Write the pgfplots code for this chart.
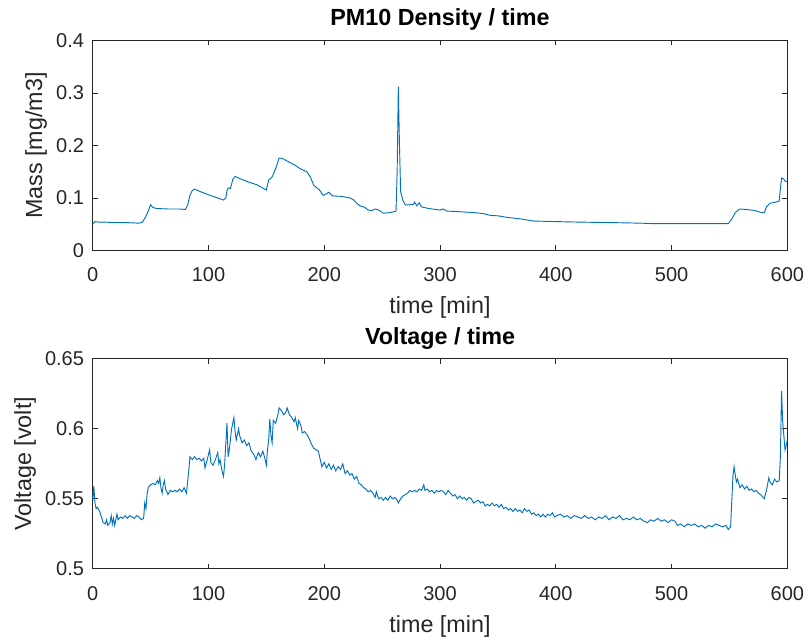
\documentclass[border=0pt]{standalone}
\usepackage{fontspec}
\setmainfont{Liberation Sans}
\usepackage{pgfplots}
\pgfplotsset{compat=1.18}
\definecolor{mlblue}{RGB}{0,114,189}
\definecolor{mlgray}{RGB}{38,38,38}

\pgfplotsset{mlstyle/.style={
  scale only axis, width=521pt, height=157.5pt,
  xmin=0, xmax=600, xtick={0,100,...,600},
  axis line style={mlgray, line width=0.6pt},
  tick style={mlgray, line width=0.6pt},
  tick align=inside, major tick length=3.75pt,
  ticklabel style={font=\fontsize{15}{17}\selectfont, text=mlgray},
  xticklabel style={anchor=base, yshift=-23.6pt},
  yticklabel style={anchor=east, xshift=-3pt},
  label style={font=\fontsize{17.5}{20}\selectfont, text=mlgray},
  xlabel style={at={(0.5,0)}, anchor=base, yshift=-47.6pt},
  title style={font=\bfseries\fontsize{17.5}{20}\selectfont, at={(0.5,1)}, anchor=base, yshift=5pt},
  /pgf/number format/assume math mode=true,
  xlabel={time [min]},
}}

\begin{document}
\begin{tikzpicture}
\path[use as bounding box] (0,0) rectangle (604.5pt,480.75pt);

% PM10 density
\begin{axis}[mlstyle, at={(69.5pt,292.9pt)}, anchor=south west,
  ymin=0, ymax=0.4, ytick={0,0.1,...,0.4},
  ylabel={Mass [mg/m3]},
  title={PM10 Density / time}]
\addplot[mlblue, line width=0.7pt] coordinates {
(0,0.050) (2,0.055) (5,0.054) (10,0.054) (20,0.053) (30,0.053) (40,0.052)
(43,0.054) (46,0.065) (48,0.075) (50,0.087) (52,0.082) (55,0.080) (65,0.079)
(75,0.079) (80,0.078) (82,0.086) (84,0.105) (86,0.114) (88,0.117) (92,0.113)
(100,0.106) (108,0.100) (113,0.096) (115,0.100) (116,0.114) (117,0.119)
(119,0.118) (121,0.135) (123,0.141) (128,0.136) (135,0.130) (142,0.125)
(150,0.115) (152,0.134) (155,0.140) (157,0.150) (159,0.162) (161,0.176)
(164,0.175) (170,0.168) (175,0.162) (179,0.156) (185,0.150) (188,0.140)
(191,0.124) (196,0.115) (199,0.105) (202,0.108) (204,0.111) (207,0.104)
(215,0.103) (222,0.100) (225,0.097) (228,0.090) (231,0.085) (235,0.082)
(238,0.077) (241,0.076) (244,0.079) (247,0.077) (251,0.071) (256,0.072)
(261,0.074) (262,0.075) (263,0.150) (264,0.312) (265,0.200) (266,0.112)
(268,0.095) (270,0.087) (274,0.087) (277,0.088) (278,0.092) (280,0.085)
(282,0.091) (284,0.083) (290,0.080) (300,0.077) (303,0.079) (306,0.075)
(315,0.074) (330,0.072) (338,0.070) (343,0.067) (350,0.066) (358,0.063)
(370,0.060) (381,0.056) (400,0.055) (420,0.054) (450,0.053) (473,0.052)
(485,0.051) (520,0.051) (549,0.051) (552,0.060) (555,0.072) (559,0.079)
(565,0.078) (572,0.076) (578,0.072) (580,0.072) (582,0.083) (585,0.090)
(590,0.092) (593,0.094) (594,0.118) (595,0.138) (597,0.136) (598,0.132)
(600,0.131)
};
\end{axis}

% voltage
\begin{axis}[mlstyle, at={(69.5pt,54.15pt)}, anchor=south west,
  ymin=0.5, ymax=0.65, ytick={0.5,0.55,0.6,0.65},
  ylabel={Voltage [volt]},
  title={Voltage / time}]
\addplot[mlblue, line width=0.7pt] coordinates {
(0,0.548) (1,0.559) (2,0.547) (3,0.543) (4,0.544) (6,0.541) (8,0.536)
(9,0.533) (11,0.532) (12,0.535) (13,0.531) (15,0.533) (16,0.538) (17,0.532)
(18,0.536) (19,0.531) (21,0.539) (22,0.535) (24,0.537) (26,0.536) (28,0.538)
(30,0.536) (32,0.538) (34,0.537) (36,0.536) (38,0.538) (40,0.537) (42,0.535)
(44,0.536) (45,0.547) (46,0.543) (47,0.553) (48,0.558) (50,0.560) (52,0.561)
(54,0.560) (56,0.563) (57,0.561) (58,0.565) (59,0.558) (60,0.554) (61,0.560)
(62,0.563) (63,0.557) (65,0.553) (67,0.556) (69,0.555) (71,0.556) (73,0.555)
(75,0.557) (77,0.555) (79,0.558) (80,0.556) (81,0.554) (83,0.570) (84,0.580)
(86,0.578) (88,0.580) (90,0.578) (92,0.579) (94,0.577) (96,0.579) (97,0.572)
(99,0.578) (101,0.585) (102,0.576) (104,0.574) (106,0.578) (108,0.583)
(109,0.575) (110,0.578) (111,0.573) (112,0.569) (113,0.566) (114,0.575)
(116,0.604) (117,0.580) (118,0.585) (120,0.600) (122,0.608) (123,0.598)
(124,0.592) (126,0.600) (127,0.595) (129,0.590) (131,0.592) (133,0.588)
(135,0.590) (137,0.584) (139,0.582) (141,0.578) (143,0.583) (145,0.580)
(147,0.584) (149,0.578) (150,0.574) (151,0.585) (152,0.592) (153,0.607)
(154,0.595) (155,0.590) (156,0.606) (158,0.604) (160,0.610) (161,0.615)
(163,0.613) (165,0.610) (167,0.612) (168,0.615) (170,0.610) (172,0.608)
(174,0.605) (175,0.608) (177,0.600) (178,0.606) (180,0.602) (181,0.597)
(183,0.598) (185,0.596) (187,0.593) (189,0.589) (191,0.586) (193,0.585)
(195,0.584) (196,0.580) (198,0.573) (200,0.576) (202,0.572) (204,0.575)
(206,0.571) (208,0.574) (210,0.570) (212,0.573) (214,0.571) (216,0.575)
(218,0.568) (220,0.570) (222,0.567) (224,0.568) (226,0.564) (228,0.566)
(230,0.561) (232,0.560) (234,0.558) (236,0.557) (238,0.555) (240,0.556)
(242,0.554) (244,0.551) (245,0.555) (247,0.550) (249,0.551) (251,0.549)
(253,0.551) (255,0.549) (257,0.552) (259,0.550) (261,0.551) (263,0.549)
(264,0.547) (266,0.550) (268,0.552) (270,0.553) (272,0.554) (274,0.556)
(276,0.555) (278,0.556) (280,0.555) (282,0.557) (284,0.556) (286,0.560)
(287,0.556) (289,0.557) (291,0.555) (293,0.556) (295,0.554) (297,0.556)
(299,0.555) (301,0.556) (303,0.555) (305,0.553) (307,0.556) (309,0.554)
(311,0.552) (313,0.553) (315,0.550) (317,0.552) (319,0.550) (321,0.551)
(323,0.549) (325,0.551) (327,0.550) (329,0.547) (331,0.548) (333,0.549)
(335,0.547) (337,0.548) (339,0.545) (341,0.546) (343,0.545) (345,0.547)
(347,0.545) (349,0.546) (351,0.544) (353,0.546) (355,0.543) (357,0.544)
(359,0.542) (361,0.543) (363,0.541) (365,0.543) (367,0.541) (369,0.542)
(371,0.540) (373,0.543) (375,0.541) (377,0.542) (379,0.539) (381,0.540)
(383,0.538) (385,0.539) (387,0.537) (389,0.539) (391,0.537) (393,0.539)
(395,0.538) (397,0.540) (399,0.537) (401,0.538) (404,0.539) (407,0.537)
(410,0.538) (413,0.536) (416,0.538) (419,0.537) (422,0.536) (425,0.538)
(428,0.536) (431,0.537) (434,0.535) (437,0.537) (440,0.536) (443,0.538)
(446,0.535) (449,0.537) (452,0.536) (455,0.538) (458,0.535) (461,0.536)
(464,0.535) (467,0.537) (470,0.535) (473,0.536) (476,0.534) (479,0.533)
(482,0.535) (485,0.534) (488,0.536) (491,0.534) (494,0.535) (497,0.533)
(500,0.535) (503,0.534) (505,0.531) (508,0.532) (511,0.530) (514,0.532)
(517,0.531) (520,0.532) (523,0.530) (526,0.531) (529,0.529) (532,0.531)
(535,0.530) (538,0.532) (541,0.531) (544,0.530) (547,0.531) (549,0.528)
(551,0.530) (553,0.566) (554,0.573) (555,0.567) (556,0.562) (557,0.564)
(559,0.558) (561,0.560) (563,0.557) (565,0.559) (567,0.556) (569,0.557)
(571,0.555) (573,0.556) (575,0.554) (577,0.553) (579,0.551) (580,0.550)
(582,0.556) (584,0.565) (585,0.562) (587,0.560) (589,0.564) (591,0.562)
(593,0.563) (594,0.580) (595,0.627) (596,0.605) (597,0.595) (598,0.585)
(599,0.588) (600,0.592)
};
\end{axis}
\end{tikzpicture}
\end{document}
